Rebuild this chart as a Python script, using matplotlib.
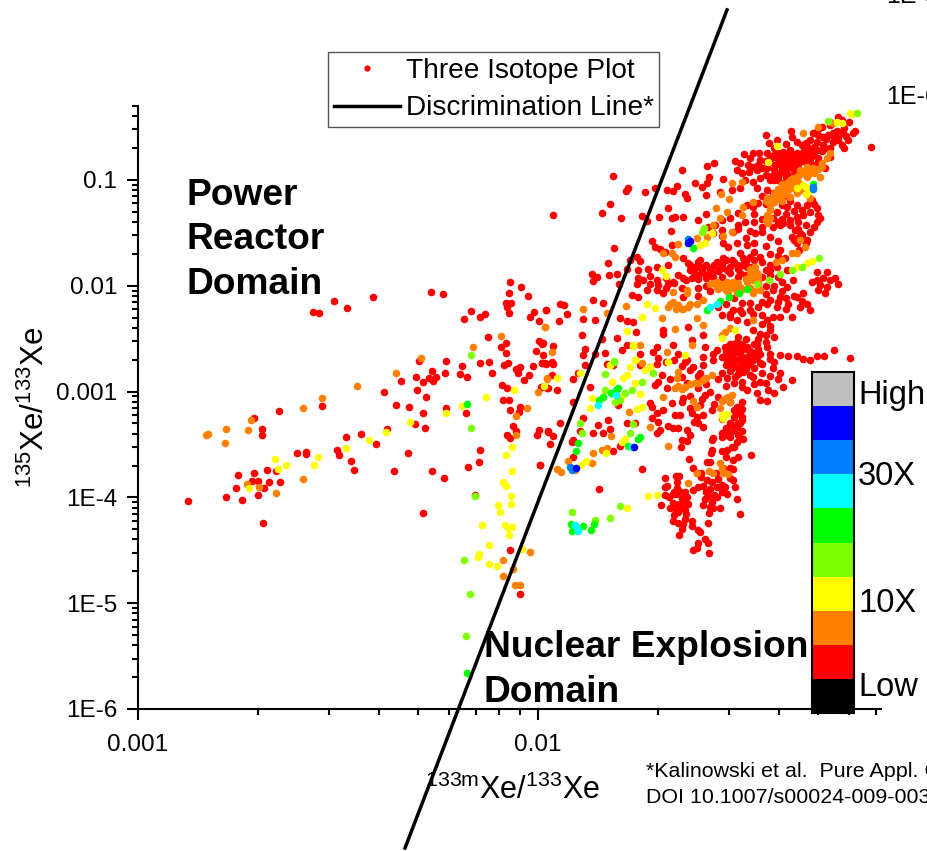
import numpy as np
import matplotlib
matplotlib.use("Agg")
import matplotlib.pyplot as plt
from matplotlib.colors import ListedColormap
from matplotlib.lines import Line2D

plt.rcParams['font.family'] = ['Liberation Sans', 'DejaVu Sans']
plt.rcParams['mathtext.fontset'] = 'custom'
plt.rcParams['mathtext.rm'] = 'Liberation Sans'
plt.rcParams['mathtext.default'] = 'regular'

# points as (log10 133mXe/133Xe, log10 135Xe/133Xe), one list per colour
red_pts = [
(-2.874,-4.036),(-2.78,-3.992),(-2.741,-4.021),(-2.701,-3.98),(-2.687,-4.245),(-2.754,-3.91),(-2.75,-3.787),(-2.71,-3.768),
(-2.716,-3.841),(-2.699,-3.841),(-2.685,-3.913),(-2.672,-3.85),(-2.646,-3.857),(-2.677,-3.74),(-2.654,-3.752),(-2.602,-3.582),
(-2.581,-3.57),(-2.579,-3.592),(-2.502,-3.551),(-2.497,-3.601),(-2.481,-3.431),(-2.468,-3.655),(-2.46,-3.737),(-2.442,-3.399),
(-2.404,-3.494),(-2.378,-3.349),(-2.359,-3.746),(-2.325,-3.585),(-2.307,-3.305),(-2.282,-3.342),(-2.265,-3.746),(-2.236,-3.816),
(-2.287,-4.15),(-2.175,-3.712),(-2.147,-3.661),(-2.146,-3.548),(-2.157,-3.973),(-2.709,-3.251),(-2.689,-3.355),(-2.69,-3.412),
(-2.648,-3.185),(-2.54,-3.14),(-2.384,-3.0),(-2.354,-3.131),(-2.322,-3.147),(-2.288,-3.207),(-2.23,-3.153),(-2.181,-3.2),
(-2.343,-2.901),(-2.306,-2.86),(-2.288,-2.913),(-2.272,-2.876),(-2.262,-2.904),(-2.255,-2.866),(-2.266,-2.803),(-2.233,-2.822),
(-2.303,-2.989),(-2.28,-3.055),(-2.297,-2.712),(-2.231,-2.715),(-2.19,-2.759),(-2.195,-2.831),(-2.178,-2.86),(-2.146,-2.727),
(-2.122,-2.724),(-2.114,-2.822),(-2.124,-2.484),(-2.093,-2.576),(-2.079,-2.538),(-2.081,-2.633),(-2.085,-2.749),(-2.074,-2.734),
(-2.044,-2.765),(-2.055,-2.79),(-2.051,-2.822),(-2.023,-2.844),(-2.034,-2.891),(-2.09,-2.942),(-2.078,-2.967),(-2.087,-3.084),
(-2.072,-3.084),(-2.069,-3.172),(-2.044,-3.144),(-2.047,-3.197),(-2.063,-3.33),(-2.056,-3.377),(-2.077,-3.415),(-2.069,-3.44),
(-1.998,-3.361),(-2.002,-3.412),(-1.976,-3.38),(-1.994,-3.696),(-2.186,-2.311),(-2.168,-2.235),(-2.144,-2.298),(-2.132,-2.264),
(-2.267,-2.055),(-2.238,-2.081),(-2.563,-2.251),(-2.548,-2.257),(-2.509,-2.147),(-2.478,-2.21),(-2.413,-2.103),(-2.08,-2.166),
(-2.067,-2.166),(-2.078,-2.197),(-2.073,-2.257),(-2.072,-2.065),(-2.069,-1.967),(-2.043,-2.014),(-2.026,-2.096),(-2.011,-2.245),
(-2.019,-2.295),(-1.998,-2.333),(-1.98,-2.229),(-1.998,-2.522),(-1.988,-2.541),(-2.006,-2.62),(-1.988,-2.655),(-1.991,-2.73),
(-1.981,-2.74),(-2.012,-2.756),(-1.992,-2.961),(-1.976,-2.964),(-2.071,-4.498),(-2.046,-4.911),
(-1.622,-3.641),(-1.612,-3.72),(-1.741,-3.733),(-1.848,-3.925),(-1.683,-3.815),(-1.656,-3.799),(-1.647,-3.799),(-1.652,-3.853),
(-1.677,-3.891),(-1.683,-3.9),(-1.653,-3.916),(-1.647,-3.938),(-1.652,-3.969),(-1.663,-3.969),(-1.632,-3.947),(-1.628,-3.995),
(-1.637,-4.026),(-1.683,-3.973),(-1.672,-3.995),(-1.662,-4.051),(-1.647,-4.058),(-1.641,-4.089),(-1.658,-4.105),(-1.67,-4.105),
(-1.693,-4.074),(-1.649,-4.137),(-1.632,-4.121),(-1.624,-4.058),(-1.632,-4.2),(-1.616,-4.222),(-1.662,-4.225),(-1.649,-4.241),
(-1.637,-4.253),(-1.614,-4.272),(-1.639,-4.3),(-1.599,-4.31),(-1.595,-4.326),(-1.574,-4.241),(-1.6,-4.427),(-1.648,-4.357),
(-1.583,-4.389),(-1.574,-4.427),(-1.572,-4.521),(-1.603,-4.474),(-1.612,-4.5),(-1.495,-4.159),(-1.503,-4.02),(-1.507,-3.906),
(-1.512,-3.837),(-1.528,-3.969),(-1.533,-3.9),(-1.553,-3.995),(-1.566,-4.042),(-1.574,-3.988),(-1.583,-4.02),(-1.587,-4.074),
(-1.57,-4.089),(-1.562,-4.105),(-1.572,-4.146),(-1.545,-4.105),(-1.587,-3.894),(-1.564,-3.853),(-1.553,-3.9),(-1.541,-3.884),
(-1.578,-3.837),(-1.593,-3.805),(-1.612,-3.932),(-1.603,-3.774),(-1.593,-3.774),(-1.555,-3.774),(-1.513,-3.733),(-1.512,-3.648),
(-1.468,-3.6),(-1.537,-3.726),(-1.57,-3.663),(-1.578,-3.663),(-1.566,-3.553),(-1.567,-3.585),(-1.541,-3.559),(-1.528,-3.553),
(-1.516,-3.528),(-1.487,-3.452),(-1.503,-3.474),(-1.52,-3.427),(-1.533,-3.411),(-1.538,-3.389),(-1.562,-3.443),(-1.566,-3.458),
(-1.62,-3.411),(-1.628,-3.468),(-1.641,-3.458),(-1.643,-3.521),(-1.516,-3.316),(-1.503,-3.339),(-1.495,-3.301),(-1.491,-3.238),
(-1.495,-3.19),(-1.491,-3.096),(-1.503,-3.143),(-1.524,-3.38),(-1.541,-3.395),(-1.587,-3.332),(-1.599,-3.301),(-1.61,-3.285),
(-1.587,-3.222),(-1.603,-3.238),(-1.616,-3.206),(-1.62,-3.159),(-1.628,-3.364),(-1.649,-3.342),(-1.662,-3.348),(-1.674,-3.326),
(-1.695,-3.364),(-1.703,-3.395),(-1.699,-3.285),(-1.716,-3.253),(-1.703,-3.206),(-1.687,-3.174),(-1.657,-3.222),(-1.645,-3.222),
(-1.566,-3.174),(-1.595,-3.127),(-1.582,-3.032),(-1.637,-3.064),(-1.641,-3.096),(-1.678,-2.969),(-1.666,-3.111),(-1.72,-3.111),
(-1.716,-3.143),(-1.757,-3.301),(-1.778,-3.294),(-1.82,-3.357),(-1.824,-3.269),(-1.849,-3.316),(-1.837,-3.395),(-1.862,-3.395),
(-1.895,-3.37),(-1.912,-3.458),(-1.916,-3.474),(-1.945,-3.294),(-1.974,-3.37),(-1.962,-3.417),(-1.97,-3.499),(-1.995,-3.695),
(-1.913,-3.096),(-1.887,-3.253),(-1.812,-3.562),(-1.795,-3.515),(-1.799,-3.127),(-1.912,-3.616),(-1.913,-2.884),(-1.87,-2.954),
(-1.899,-2.827),(-1.966,-2.843),(-1.953,-2.985),(-1.977,-2.963),(-1.991,-2.954),(-1.991,-2.733),(-1.982,-2.733),(-1.966,-2.717),
(-1.167,-0.685),(-1.43,-0.575),(-1.368,-0.534),(-1.364,-0.597),(-1.352,-0.638),(-1.403,-0.622),(-1.422,-0.654),(-1.33,-0.647),
(-1.328,-0.692),(-1.291,-0.496),(-1.27,-0.48),(-1.249,-0.401),(-1.241,-0.433),(-1.222,-0.455),(-1.234,-0.512),(-1.207,-0.534),
(-1.213,-0.553),(-1.237,-0.559),(-1.253,-0.534),(-1.262,-0.553),(-1.274,-0.575),(-1.287,-0.59),(-1.299,-0.575),(-1.312,-0.559),
(-1.303,-0.638),(-1.287,-0.67),(-1.262,-0.638),(-1.249,-0.622),(-1.241,-0.67),(-1.235,-0.701),(-1.224,-0.622),(-1.283,-0.701),
(-1.303,-0.717),(-1.32,-0.733),(-1.337,-0.733),(-1.353,-0.748),(-1.37,-0.717),(-1.387,-0.733),(-1.399,-0.748),(-1.412,-0.78),
(-1.428,-0.748),(-1.447,-0.742),(-1.462,-0.748),(-1.485,-0.758),(-1.508,-0.821),(-1.495,-0.837),(-1.47,-0.796),(-1.445,-0.811),
(-1.474,-0.859),(-1.462,-0.875),(-1.502,-0.906),(-1.491,-0.931),(-1.472,-0.922),(-1.453,-0.906),(-1.428,-0.89),(-1.445,-0.985),
(-1.462,-1.016),(-1.483,-1.001),(-1.495,-1.08),(-1.516,-1.095),(-1.538,-0.994),(-1.572,-0.969),(-1.56,-0.837),(-1.578,-0.868),
(-1.641,-0.906),(-1.812,-0.96),(-1.774,-1.08),(-1.78,-1.102),(-1.733,-1.111),(-1.708,-1.08),(-1.677,-1.095),(-1.662,-1.105),
(-1.652,-1.058),(-1.607,-1.032),(-1.591,-1.07),(-1.578,-1.032),(-1.58,-1.146),(-1.632,-1.133),(-1.627,-1.174),(-1.545,-1.117),
(-1.82,-1.231),(-1.841,-1.316),(-1.793,-1.363),(-1.963,-1.332),(-1.741,-1.341),(-1.728,-1.389),(-1.698,-1.354),(-1.674,-1.269),
(-1.666,-1.363),(-1.658,-1.348),(-1.637,-1.348),(-1.667,-1.483),(-1.81,-1.641),(-1.826,-1.783),(-1.77,-1.758),(-1.753,-1.726),
(-1.745,-1.764),(-1.714,-1.575),(-1.707,-1.638),(-1.695,-1.657),(-1.682,-1.679),(-1.666,-1.616),(-1.637,-1.742),(-1.624,-1.789),
(-1.866,-1.89),(-1.853,-1.916),(-1.862,-1.953),(-1.822,-1.9),(-1.802,-1.893),(-1.778,-1.837),(-1.797,-1.988),(-1.749,-1.852),
(-1.703,-1.821),(-1.724,-1.837),(-1.674,-1.805),(-1.737,-1.947),(-1.753,-1.979),(-1.72,-1.979),(-1.703,-1.947),(-1.674,-1.979),
(-1.662,-1.963),(-1.637,-1.931),(-1.766,-2.089),(-1.749,-2.105),(-1.727,-2.042),(-1.703,-2.042),(-1.687,-2.073),(-1.637,-2.105),
(-1.862,-2.13),(-1.838,-2.161),(-1.945,-2.177),(-1.935,-2.184),(-1.928,-2.269),(-1.98,-2.231),(-1.947,-2.335),(-1.888,-2.313),
(-1.857,-2.319),(-1.795,-2.3),(-1.777,-2.332),(-1.762,-2.345),(-1.889,-2.468),(-1.841,-2.499),(-1.803,-2.49),(-1.883,-2.594),
(-1.888,-2.651),(-1.858,-2.641),(-1.833,-2.632),(-1.963,-2.572),(-1.991,-2.547),(-1.755,-2.436),(-1.687,-2.42),(-1.687,-2.452),
(-1.624,-2.389),(-1.587,-2.468),(-1.582,-2.578),(-1.562,-2.641),(-1.587,-2.673),(-1.616,-2.515),(-1.662,-2.562),(-1.703,-2.578),
(-1.745,-2.641),(-1.778,-2.562),(-1.791,-2.61),(-1.712,-2.625),(-1.649,-2.641),(-1.632,-2.72),(-1.703,-2.736),(-1.745,-2.752),
(-1.812,-2.752),(-1.828,-2.736),(-1.883,-2.752),(-1.962,-2.736),
(-1.62,-1.852),(-1.608,-1.821),(-1.595,-1.758),(-1.595,-1.821),(-1.587,-1.884),(-1.599,-1.9),(-1.616,-1.931),(-1.578,-1.9),
(-1.566,-1.868),(-1.553,-1.773),(-1.537,-1.742),(-1.516,-1.758),(-1.495,-1.695),(-1.487,-1.742),(-1.47,-1.726),(-1.503,-1.805),
(-1.528,-1.852),(-1.545,-1.837),(-1.562,-1.916),(-1.495,-1.884),(-1.478,-1.821),(-1.445,-1.726),(-1.537,-1.6),(-1.524,-1.632),
(-1.503,-1.6),(-1.478,-1.616),(-1.457,-1.505),(-1.441,-1.49),(-1.412,-1.442),(-1.395,-1.427),(-1.345,-1.505),(-1.328,-1.569),
(-1.32,-1.49),(-1.303,-1.395),(-1.295,-1.363),(-1.303,-1.269),(-1.328,-1.237),(-1.353,-1.237),(-1.378,-1.253),(-1.403,-1.3),
(-1.412,-1.363),(-1.353,-1.348),(-1.337,-1.332),(-1.37,-1.379),(-1.387,-1.41),(-1.358,-1.474),(-1.366,-1.537),(-1.353,-1.6),
(-1.347,-1.663),(-1.449,-1.222),(-1.462,-1.253),(-1.478,-1.237),(-1.499,-1.316),(-1.483,-1.395),(-1.499,-1.427),(-1.512,-1.49),
(-1.558,-1.427),(-1.541,-1.474),(-1.574,-1.442),(-1.562,-1.505),(-1.395,-1.663),(-1.382,-1.742),(-1.403,-1.821),(-1.42,-1.852),
(-1.378,-1.852),(-1.362,-1.947),(-1.378,-2.01),(-1.395,-2.105),(-1.412,-2.042),(-1.428,-2.168),(-1.403,-2.2),(-1.374,-2.168),
(-1.353,-2.105),(-1.337,-2.073),(-1.328,-2.168),(-1.345,-2.2),(-1.32,-2.231),(-1.366,-2.294),(-1.395,-2.294),(-1.412,-2.294),
(-1.428,-2.326),(-1.42,-2.42),(-1.445,-2.452),(-1.462,-2.42),(-1.478,-2.341),(-1.503,-2.326),(-1.512,-2.231),(-1.52,-2.294),
(-1.495,-2.231),(-1.462,-2.263),(-1.303,-1.868),(-1.278,-1.868),(-1.258,-1.931),(-1.249,-1.979),(-1.27,-1.947),(-1.287,-1.931),
(-1.303,-1.947),(-1.295,-1.994),(-1.278,-2.01),(-1.283,-2.073),(-1.299,-2.042),(-1.316,-1.963),
(-1.395,-0.78),(-1.374,-0.764),(-1.362,-0.796),(-1.387,-0.827),(-1.407,-0.859),(-1.378,-0.89),(-1.362,-0.859),(-1.395,-0.938),
(-1.412,-0.953),(-1.374,-0.953),(-1.399,-1.001),(-1.345,-0.811),(-1.349,-0.875),(-1.42,-1.001),(-1.299,-0.827),(-1.312,-0.859),
(-1.283,-0.89),(-1.316,-1.19),(-1.412,-1.127),(-1.428,-1.095),(-1.453,-1.08),(-1.387,-1.158),
(-1.533,-2.578),(-1.52,-2.547),(-1.503,-2.531),(-1.487,-2.578),(-1.512,-2.61),(-1.528,-2.641),(-1.495,-2.641),(-1.478,-2.673),
(-1.516,-2.673),(-1.503,-2.704),(-1.528,-2.72),(-1.487,-2.736),(-1.462,-2.704),(-1.445,-2.641),(-1.428,-2.578),(-1.453,-2.547),
(-1.541,-2.673),(-1.512,-2.752),(-1.495,-2.783),(-1.395,-2.65),(-1.374,-2.663),(-1.353,-2.663),(-1.337,-2.688),(-1.32,-2.704),
(-1.303,-2.663),(-1.285,-2.666),(-1.26,-2.61),(-1.22,-2.682),(-1.42,-2.641),
(-1.462,-2.638),(-1.445,-2.733),(-1.412,-2.78),(-1.395,-2.827),(-1.366,-2.89),(-1.387,-2.954),(-1.424,-2.985),(-1.409,-3.017),
(-1.453,-3.017),(-1.445,-3.08),(-1.428,-3.089),(-1.478,-2.985),(-1.462,-2.859),(-1.445,-2.906),(-1.491,-2.906),(-1.507,-2.859),
(-1.528,-2.875),(-1.541,-2.827),(-1.487,-2.812),(-1.453,-2.67),(-1.478,-2.575),(-1.495,-2.638),(-1.512,-2.701),(-1.528,-2.67),
(-1.516,-2.78),(-1.553,-2.607),(-1.562,-2.701),(-1.587,-2.749),(-1.612,-2.764),(-1.628,-2.701),(-1.595,-2.827),(-1.628,-2.922),
(-1.699,-2.906),(-1.707,-2.938),
]
# the crowded patches, estimated more loosely
red_dense_pts = [
(-1.41,-0.76),(-1.4,-0.8),(-1.39,-0.76),(-1.38,-0.8),(-1.37,-0.79),(-1.36,-0.76),(-1.35,-0.77),(-1.34,-0.78),(-1.33,-0.77),(-1.42,-0.83),
(-1.4,-0.85),(-1.38,-0.84),(-1.37,-0.86),(-1.35,-0.84),(-1.34,-0.82),(-1.33,-0.83),(-1.32,-0.8),(-1.41,-0.9),(-1.39,-0.89),(-1.38,-0.92),
(-1.36,-0.91),(-1.35,-0.92),(-1.4,-0.96),(-1.38,-0.97),(-1.36,-0.96),(-1.41,-1.0),(-1.39,-1.03),(-1.37,-1.01),(-1.43,-0.95),(-1.44,-0.89),
(-1.45,-0.86),(-1.43,-0.82),(-1.31,-0.76),(-1.3,-0.79),(-1.27,-0.78),(-1.29,-0.73),(-1.31,-0.69),(-1.27,-0.7),(-1.25,-0.6),(-1.26,-0.59),
(-1.28,-0.61),(-1.23,-0.58),(-1.3,-0.52),(-1.32,-0.62),(-1.34,-0.67),(-1.38,-0.66),(-1.41,-0.7),(-1.42,-0.78),
(-1.44,-1.15),(-1.43,-1.23),(-1.41,-1.2),(-1.39,-1.24),(-1.37,-1.2),(-1.36,-1.29),(-1.34,-1.28),(-1.32,-1.3),(-1.3,-1.33),(-1.38,-1.32),
(-1.39,-1.37),(-1.37,-1.43),(-1.4,-1.4),(-1.35,-1.4),(-1.33,-1.43),(-1.31,-1.44),(-1.35,-1.46),(-1.34,-1.52),(-1.36,-1.57),(-1.35,-1.55),
(-1.33,-1.6),(-1.32,-1.18),(-1.31,-1.23),(-1.46,-1.32),(-1.44,-1.37),(-1.46,-1.4),(-1.52,-1.36),(-1.54,-1.38),(-1.5,-1.46),(-1.47,-1.48),
(-1.44,-1.44),(-1.58,-1.32),(-1.6,-1.38),(-1.54,-1.53),(-1.48,-1.55),(-1.42,-1.54),(-1.4,-1.58),(-1.43,-1.62),(-1.46,-1.6),(-1.42,-1.7),
(-1.4,-1.72),(-1.46,-1.68),
(-1.62,-1.8),(-1.6,-1.78),(-1.61,-1.87),(-1.59,-1.85),(-1.6,-1.94),(-1.58,-1.8),(-1.57,-1.84),(-1.58,-1.93),(-1.56,-1.8),(-1.55,-1.86),
(-1.54,-1.8),(-1.53,-1.76),(-1.52,-1.82),(-1.51,-1.78),(-1.5,-1.84),(-1.49,-1.8),(-1.48,-1.77),(-1.54,-1.92),(-1.52,-1.88),(-1.5,-1.92),
(-1.48,-1.9),(-1.47,-1.82),(-1.46,-1.76),(-1.44,-1.78),(-1.43,-1.85),(-1.42,-1.8),(-1.63,-1.95),(-1.65,-1.9),(-1.66,-1.97),(-1.68,-1.93),
(-1.7,-1.99),(-1.64,-2.02),(-1.68,-2.02),(-1.72,-1.91),(-1.75,-1.93),(-1.6,-2.02),(-1.58,-2.0),(-1.6,-2.1),(-1.57,-2.05),(-1.44,-1.92),
(-1.42,-1.9),(-1.4,-1.92),(-1.41,-2.0),(-1.43,-2.0),(-1.39,-1.96),(-1.39,-2.05),(-1.43,-2.08),(-1.42,-2.13),(-1.4,-2.15),(-1.38,-2.12),
(-1.38,-2.22),(-1.36,-2.1),(-1.34,-2.14),(-1.44,-2.15),(-1.45,-2.2),(-1.44,-2.28),(-1.47,-2.16),(-1.49,-2.16),(-1.51,-2.12),(-1.53,-2.17),
(-1.55,-2.2),(-1.54,-2.28),(-1.52,-2.27),(-1.49,-2.26),(-1.47,-2.23),
(-1.44,-2.36),(-1.42,-2.38),(-1.43,-2.47),(-1.41,-2.48),(-1.45,-2.5),(-1.43,-2.53),(-1.46,-2.55),(-1.48,-2.5),(-1.5,-2.48),(-1.49,-2.55),
(-1.51,-2.55),(-1.52,-2.59),(-1.5,-2.6),(-1.48,-2.6),(-1.47,-2.62),(-1.45,-2.6),(-1.53,-2.62),(-1.51,-2.64),(-1.49,-2.67),(-1.47,-2.66),
(-1.46,-2.68),(-1.52,-2.69),(-1.5,-2.7),(-1.48,-2.71),(-1.51,-2.73),(-1.49,-2.75),(-1.47,-2.74),(-1.53,-2.75),(-1.5,-2.78),(-1.48,-2.79),
(-1.46,-2.78),(-1.52,-2.81),(-1.5,-2.83),(-1.47,-2.84),(-1.44,-2.74),(-1.42,-2.69),(-1.41,-2.72),(-1.44,-2.82),(-1.42,-2.85),(-1.4,-2.88),
(-1.43,-2.92),(-1.46,-2.93),(-1.49,-2.96),(-1.51,-2.92),(-1.53,-2.95),
(-1.52,-3.1),(-1.51,-3.17),(-1.5,-3.2),(-1.49,-3.16),(-1.51,-3.24),(-1.49,-3.27),(-1.5,-3.3),(-1.52,-3.3),(-1.53,-3.34),(-1.51,-3.36),
(-1.52,-3.4),(-1.5,-3.41),(-1.54,-3.43),(-1.49,-3.37),
(-1.7,-2.68),(-1.68,-2.72),(-1.66,-2.7),(-1.64,-2.76),(-1.72,-2.77),(-1.69,-2.84),(-1.67,-2.88),(-1.64,-2.86),(-1.62,-2.8),(-1.6,-2.85),
(-1.58,-2.93),(-1.55,-2.88),(-1.6,-2.97),(-1.57,-3.0),(-1.55,-3.05),(-1.62,-3.04),(-1.59,-3.07),(-1.56,-3.12),
(-1.66,-3.95),(-1.64,-4.01),(-1.65,-4.08),(-1.63,-4.16),(-1.66,-4.17),(-1.6,-3.9),(-1.57,-3.92),(-1.55,-3.83),(-1.58,-3.95),(-1.56,-3.98),
(-1.54,-3.95),(-1.52,-3.82),(-1.52,-3.72),(-1.53,-3.62),(-1.5,-3.62),(-1.51,-3.52),
]
orange_pts = [
(-2.83,-3.409),(-2.824,-3.402),(-2.78,-3.355),(-2.783,-3.484),(-2.725,-3.365),(-2.718,-3.27),(-2.588,-3.159),(-2.539,-3.062),
(-2.452,-2.948),(-2.356,-2.822),(-2.292,-2.686),(-2.163,-2.576),(-2.092,-2.472),(-1.982,-2.387),(-1.978,-2.879),(-2.001,-3.005),
(-2.027,-3.153),(-2.056,-3.235),(-2.054,-3.412),(-2.588,-3.822),(-2.655,-3.961),(-2.698,-3.898),(-2.728,-3.869),(-2.02,-4.52),
(-2.087,-4.593),(-2.062,-4.681),(-2.087,-4.741),(-2.058,-4.829),(-2.044,-4.826),
(-1.299,-0.496),(-1.27,-0.449),(-1.262,-0.464),(-1.337,-0.553),(-1.27,-0.748),(-1.278,-0.796),(-1.291,-0.843),(-1.312,-0.89),
(-1.328,-0.875),(-1.345,-0.906),(-1.362,-0.985),(-1.378,-1.032),(-1.391,-1.08),(-1.382,-1.095),(-1.399,-1.127),(-1.412,-1.158),
(-1.428,-1.174),(-1.395,-1.174),(-1.42,-1.237),(-1.428,-1.332),(-1.424,-1.411),(-1.353,-1.127),(-1.337,-1.095),(-1.32,-1.174),
(-1.295,-0.969),(-1.328,-0.969),(-1.374,-1.095),(-1.49,-1.016),(-1.514,-1.032),(-1.543,-1.133),(-1.522,-1.18),(-1.556,-1.269),
(-1.528,-1.3),(-1.545,-1.363),(-1.562,-1.427),(-1.578,-1.537),(-1.603,-1.553),(-1.649,-1.606),(-1.666,-1.695),(-1.687,-1.695),
(-1.658,-1.726),(-1.538,-1.53),(-1.516,-1.49),(-1.491,-1.332),(-1.488,-1.259),(-1.462,-1.206),(-1.345,-1.569),(-1.332,-1.632),
(-1.353,-1.695),(-1.366,-1.695),(-1.391,-1.752),(-1.405,-1.773),
(-1.457,-1.821),(-1.453,-1.884),(-1.462,-1.947),(-1.478,-1.963),(-1.495,-2.01),(-1.512,-1.963),(-1.528,-1.963),(-1.553,-1.963),
(-1.541,-2.01),(-1.524,-2.057),(-1.503,-2.073),(-1.462,-2.073),(-1.445,-2.042),(-1.449,-1.947),(-1.47,-1.868),(-1.553,-2.01),
(-1.57,-1.979),(-1.587,-2.136),(-1.603,-2.168),(-1.628,-2.073),(-1.662,-2.152),(-1.654,-2.215),(-1.674,-2.2),(-1.637,-2.215),
(-1.624,-2.2),(-1.628,-2.042),(-1.662,-2.058),(-1.603,-2.3),(-1.588,-2.367),(-1.691,-2.303),(-1.78,-2.193),(-1.888,-2.222),
(-1.828,-2.256),(-1.982,-2.389),(-1.462,-2.326),(-1.52,-2.395),(-1.533,-2.436),(-1.541,-2.468),(-1.657,-2.408),
(-1.649,-2.812),(-1.652,-2.875),(-1.657,-2.969),(-1.641,-2.969),(-1.632,-2.954),(-1.607,-2.922),(-1.587,-2.89),(-1.566,-2.843),
(-1.524,-3.048),(-1.537,-3.08),(-1.516,-3.032),(-1.545,-3.159),(-1.541,-3.263),(-1.612,-3.089),(-1.603,-3.143),(-1.687,-3.048),
(-1.772,-3.19),(-1.818,-3.42),(-1.862,-3.584),(-1.84,-3.553),(-1.827,-3.531),(-1.866,-3.679),(-1.924,-3.657),(-1.916,-3.72),
(-1.908,-3.742),(-1.953,-3.733),(-1.942,-3.764),(-1.674,-3.512),(-1.624,-3.868),(-1.603,-3.774),(-1.572,-3.752),(-1.562,-3.767),
(-1.545,-3.679),(-1.541,-3.726),(-1.524,-3.78),(-1.537,-3.767),(-1.72,-3.339),(-1.978,-2.875),(-1.966,-2.622),(-1.741,-2.733),
(-1.745,-2.559),(-1.678,-2.622),(-1.616,-2.559),
(-1.39,-1.04),(-1.4,-1.09),(-1.37,-1.06),(-1.38,-1.13),(-1.36,-1.02),(-1.35,-0.96),(-1.34,-0.93),(-1.33,-0.91),(-1.32,-0.93),(-1.37,-1.0),
(-1.41,-1.12),(-1.39,-1.14),(-1.37,-1.16),(-1.4,-1.18),(-1.41,-1.21),(-1.39,-1.2),(-1.43,-1.2),(-1.42,-1.28),(-1.42,-1.36),(-1.43,-1.38),
(-1.35,-1.02),(-1.36,-1.08),(-1.34,-1.05),(-1.31,-0.93),(-1.3,-0.9),(-1.29,-0.88),
(-1.47,-1.84),(-1.46,-1.87),(-1.45,-1.9),(-1.47,-1.91),(-1.46,-1.94),(-1.48,-1.94),(-1.5,-1.97),(-1.52,-1.99),(-1.54,-1.98),(-1.56,-1.97),
(-1.55,-2.03),(-1.53,-2.04),(-1.51,-2.02),(-1.49,-2.03),(-1.47,-2.02),(-1.45,-1.98),(-1.46,-2.05),(-1.65,-2.18),(-1.64,-2.22),(-1.62,-2.17),
(-1.67,-2.17),(-1.53,-3.06),(-1.52,-3.1),(-1.54,-3.09),(-1.64,-2.98),(-1.65,-2.95),(-1.62,-2.93),(-1.6,-2.92),(-1.58,-2.87),
]
yellow_pts = [
(-2.658,-3.636),(-2.629,-3.69),(-2.65,-3.734),(-2.722,-3.907),(-2.551,-3.617),(-2.559,-3.693),(-2.48,-3.535),(-2.423,-3.459),
(-2.379,-3.383),(-2.32,-3.292),(-2.231,-3.207),(-2.189,-3.137),(-2.129,-3.049),(-2.06,-2.989),(-1.986,-2.948),(-2.064,-3.522),
(-2.079,-3.595),(-2.066,-3.746),(-2.087,-3.85),(-2.08,-3.894),(-2.067,-3.983),(-2.099,-4.071),(-2.068,-4.065),(-2.095,-4.134),
(-2.083,-4.26),(-2.064,-4.283),(-2.074,-4.292),(-2.073,-4.352),(-2.14,-4.257),(-2.122,-4.447),(-2.147,-4.539),(-2.151,-4.567),
(-2.122,-4.634),(-2.103,-4.652),(-2.041,-4.485),
(-1.952,-2.875),(-1.866,-3.064),(-1.87,-3.159),(-1.895,-2.827),(-1.82,-2.749),(-1.77,-2.764),(-1.757,-2.701),(-1.778,-2.843),
(-1.787,-2.875),(-1.816,-2.906),(-1.757,-2.922),(-1.745,-3.026),(-1.753,-3.168),(-1.741,-3.143),(-1.787,-3.032),(-1.733,-2.796),
(-1.674,-2.717),(-1.762,-2.559),(-1.632,-2.654),(-1.791,-3.474),(-1.782,-3.452),(-1.831,-3.578),(-1.88,-3.657),(-1.893,-3.695),
(-1.724,-3.988),(-1.702,-3.982),(-1.777,-4.099),(-1.541,-3.222),(-1.528,-3.212),(-1.537,-3.253),
(-1.22,-0.363),(-1.214,-0.376),(-1.253,-0.449),(-1.241,-0.458),(-1.353,-1.073),(-1.337,-1.048),(-1.328,-1.08),(-1.32,-1.095),
(-1.33,-1.133),(-1.424,-0.827),(-1.402,-0.679),(-1.691,-1.852),(-1.681,-1.909),(-1.727,-2.168),(-1.707,-2.206),(-1.741,-2.294),
(-1.777,-2.43),(-1.595,-1.616),(-1.582,-1.6),(-1.566,-1.505),(-1.328,-1.789),(-1.316,-1.764),(-1.353,-1.821),(-1.541,-2.49),
(-1.508,-2.42),(-1.762,-2.572),(-1.757,-2.698),(-1.82,-2.752),(-1.72,-2.767),
]
lime_pts = [
(-2.167,-2.655),(-2.168,-3.342),(-2.158,-3.989),(-2.186,-4.596),(-2.169,-4.914),(-2.179,-5.312),
(-1.833,-2.837),(-1.81,-2.717),(-1.712,-2.821),(-1.741,-2.906),(-1.766,-2.985),(-1.782,-3.017),(-1.795,-3.08),(-1.807,-3.096),
(-1.895,-3.294),(-1.762,-3.31),(-1.891,-3.395),(-1.77,-3.395),(-1.794,-4.083),(-1.821,-4.193),(-1.915,-4.137),(-1.858,-4.215),
(-1.832,-2.985),(-1.202,-0.363),(-1.274,-0.439),(-1.585,-1.452),(-1.591,-1.49),(-1.297,-1.742),(-1.341,-1.821),(-1.364,-1.852),
(-1.395,-1.893),(-1.422,-1.947),(-1.453,-1.988),(-1.81,-2.71),
]
green_pts = [
(-2.178,-3.115),(-2.177,-5.662),(-1.899,-3.484),(-1.906,-3.562),(-1.837,-3.048),(-1.847,-3.08),(-1.817,-3.017),(-1.805,-2.985),
(-1.799,-2.969),(-1.774,-3.515),(-1.749,-3.452),(-1.745,-3.427),(-1.918,-4.256),(-1.914,-4.316),(-1.888,-4.272),(-1.868,-4.304),
(-1.859,-4.247),(-1.312,-1.039),(-1.477,-2.032),(-1.498,-2.067),(-1.523,-2.108),(-1.545,-2.14),(-1.612,-1.647),(-1.578,-2.225),
]
cyan_pts = [
(-1.849,-3.127),(-1.805,-3.032),(-1.903,-4.285),(-1.899,-4.316),(-1.907,-4.263),(-1.766,-3.521),(-1.57,-2.203),(-1.553,-2.171),
]
azure_pts = [(-1.916,-3.742),(-1.92,-3.71),(-1.313,-1.064),(-1.312,-1.089),(-1.625,-1.56)]
blue_pts = [(-1.759,-3.521),(-1.906,-3.72),(-1.62,-1.578),(-1.625,-1.594)]

point_groups = [
    (red_pts + red_dense_pts, '#ff0000'),
    (orange_pts, '#ff8000'),
    (yellow_pts, '#ffff00'),
    (lime_pts, '#80ff00'),
    (green_pts, '#00ff00'),
    (cyan_pts, '#00ffff'),
    (azure_pts, '#0080ff'),
    (blue_pts, '#0000ff'),
]

# discrimination line end points, log10 values
line_log_x = [-2.3325, -1.5275]
line_log_y = [-7.314, 0.607]

# colour scale, bottom to top
level_colors = ['#000000', '#ff0000', '#ff8000', '#ffff00', '#80ff00', '#00ff00', '#00ffff', '#0080ff', '#0000ff', '#c0c0c0']
level_labels = ['Low', '10X', '30X', 'High']
label_rows = [0.85, 3.3, 7.04, 9.41]  # where the labels sit along the scale

W, H = 928, 851
fig = plt.figure(figsize=(W / 100, H / 100), dpi=100)
ax = fig.add_axes([138 / W, 1 - 709 / H, 743 / W, 603 / H])

for pts, col in point_groups:
    arr = np.array(pts)
    ax.scatter(10 ** arr[:, 0], 10 ** arr[:, 1], s=30, color=col, linewidths=0, zorder=3)

ax.plot(10 ** np.array(line_log_x), 10 ** np.array(line_log_y), color='black', lw=2.5, clip_on=False, zorder=4)

ax.set_xscale('log')
ax.set_yscale('log')
ax.set_xlim(1e-3, 10 ** -1.1425)
ax.set_ylim(1e-6, 0.5)
ax.set_xticks([0.001, 0.01])
ax.set_xticklabels(['0.001', '0.01'], fontsize=17.5)
ax.set_yticks([1e-6, 1e-5, 1e-4, 1e-3, 0.01, 0.1])
ax.set_yticklabels(['1E-6', '1E-5', '1E-4', '0.001', '0.01', '0.1'], fontsize=17.5)
ax.xaxis.set_minor_locator(matplotlib.ticker.LogLocator(base=10, subs=range(2, 10), numticks=12))
ax.yaxis.set_minor_locator(matplotlib.ticker.LogLocator(base=10, subs=range(2, 10), numticks=12))
ax.xaxis.set_minor_formatter(matplotlib.ticker.NullFormatter())
ax.yaxis.set_minor_formatter(matplotlib.ticker.NullFormatter())
ax.tick_params(which='major', length=8, width=1.5)
ax.tick_params(axis='x', which='major', pad=10)
ax.tick_params(axis='y', which='major', pad=7)
ax.tick_params(which='minor', length=4.5, width=1.5)
ax.spines['top'].set_visible(False)
ax.spines['right'].set_visible(False)
ax.spines['left'].set_linewidth(1.5)
ax.spines['bottom'].set_linewidth(1.5)
ax.patch.set_alpha(0)

# axis titles
fig.text(513 / W, 1 - 799 / H, r'$^{133m}$Xe/$^{133}$Xe', fontsize=22, ha='center', va='baseline')
fig.text(35 / W, 1 - 407 / H, r'$^{135}$Xe/$^{133}$Xe', fontsize=22.5, rotation=90, ha='center', va='center')

# domain labels
fig.text(187 / W, 1 - 205 / H, 'Power', fontsize=26.7, fontweight='bold')
fig.text(187 / W, 1 - 249 / H, 'Reactor', fontsize=26.7, fontweight='bold')
fig.text(187 / W, 1 - 294 / H, 'Domain', fontsize=26.7, fontweight='bold')
fig.text(484 / W, 1 - 657 / H, 'Nuclear Explosion', fontsize=26.7, fontweight='bold')
fig.text(484 / W, 1 - 702 / H, 'Domain', fontsize=26.7, fontweight='bold')

# reference and leftover labels running off the edge
fig.text(646 / W, 1 - 777 / H, '*Kalinowski et al.  Pure Appl. Geophys.', fontsize=15.4)
fig.text(646 / W, 1 - 803 / H, 'DOI 10.1007/s00024-009-0032-1', fontsize=15.4)
fig.text(886 / W, 1 - 104 / H, '1E-6', fontsize=18)
fig.text(886 / W, 1 - 3 / H, '1E-5', fontsize=18)

handles = [
    Line2D([], [], marker='o', ms=4.5, color='#ff0000', ls='none', mew=0),
    Line2D([], [], color='black', lw=2.5),
]
leg = ax.legend(handles, ['Three Isotope Plot', 'Discrimination Line*'], loc='upper left',
                bbox_to_anchor=(328 / W, 1 - 52 / H), bbox_transform=fig.transFigure, fontsize=20.2,
                fancybox=False, framealpha=1, edgecolor='#555555', borderaxespad=0, borderpad=0.2,
                handlelength=2.35, handletextpad=0.22, labelspacing=0.42)
leg.get_frame().set_linewidth(1.0)
leg.set_zorder(5)

# colour scale
cax = fig.add_axes([812 / W, 1 - 713 / H, 42 / W, 341 / H])
cmap = ListedColormap(level_colors)
cax.pcolormesh(np.array([0, 1]), np.arange(len(level_colors) + 1),
               np.arange(len(level_colors)).reshape(-1, 1), cmap=cmap, vmin=0, vmax=len(level_colors) - 1)
cax.set_xticks([])
cax.yaxis.tick_right()
cax.set_yticks(label_rows)
cax.set_yticklabels(level_labels, fontsize=23.5)
cax.tick_params(axis='y', length=0, pad=3)
for s in cax.spines.values():
    s.set_linewidth(1.5)

fig.savefig('out.png', dpi=100)
